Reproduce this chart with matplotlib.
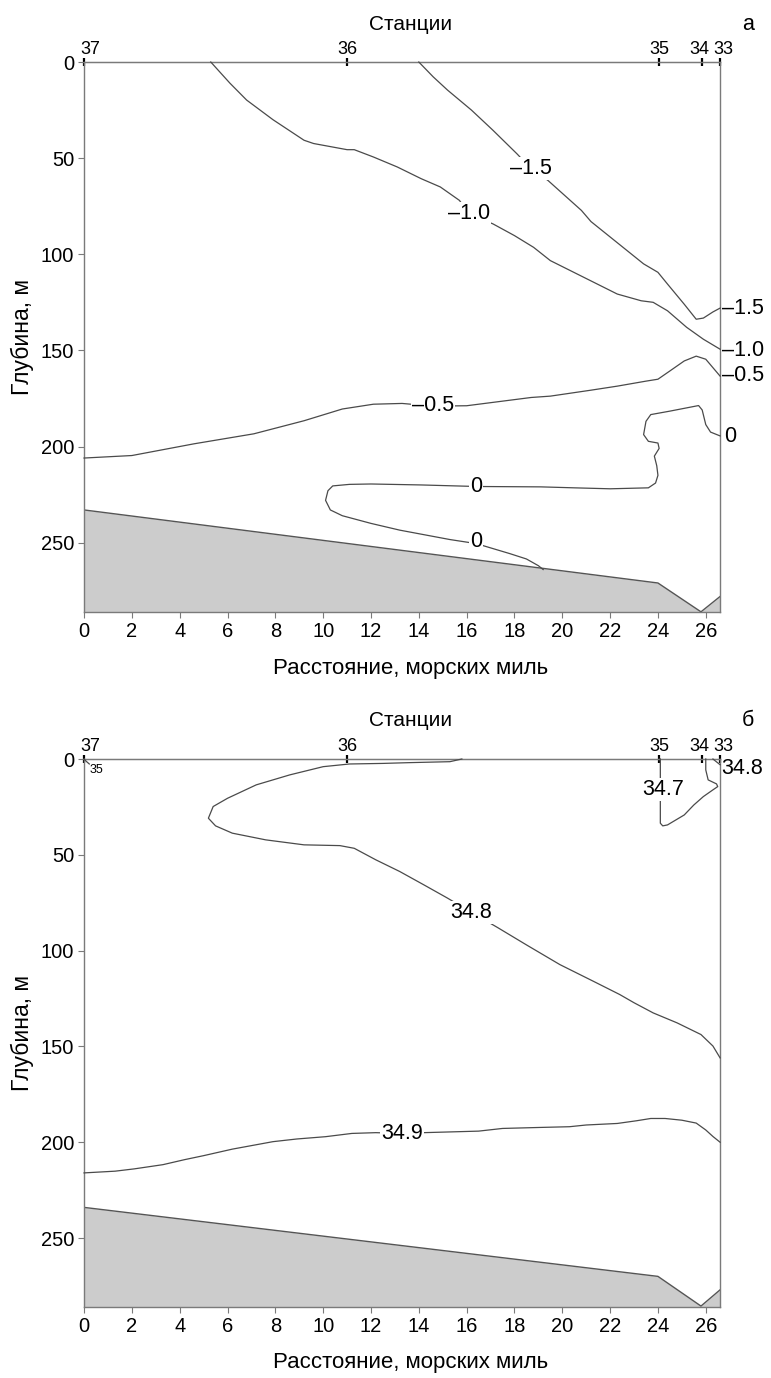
import numpy as np
import matplotlib
matplotlib.use('Agg')
import matplotlib.pyplot as plt

plt.rcParams['font.family'] = ['Liberation Sans', 'DejaVu Sans']

###############################################################################
# Stations along the section (distance, nautical miles)
station_x = [0.0, 11.0, 24.05, 25.85, 26.6]
station_lbl = ['37', '36', '35', '34', '33']
station_lbl_x = [0.25, 11.0, 24.05, 25.72, 26.75]

x_ticks = list(range(0, 27, 2))
depth_ticks = [0, 50, 100, 150, 200, 250]

# Bottom relief (distance, depth)
bot_x_a = [0.0, 24.0, 25.8, 26.6]
bot_d_a = [233, 271, 286, 278]
bot_x_b = [0.0, 24.0, 25.8, 26.6]
bot_d_b = [234, 270, 285.5, 277]

# --- panel a: temperature isolines ---
t15_x = [14.0, 14.6, 15.2, 16.2, 17.1, 18.1, 18.7, 19.4, 20.8, 21.2, 22.7, 23.4,
         24.0, 24.4, 25.1, 25.6, 25.9, 26.3, 26.6]
t15_d = [0, 7.7, 14.6, 25, 35.5, 47.7, 55.5, 61.6, 77.2, 83, 98, 105,
         109.4, 115.5, 126, 133.8, 133.2, 130, 128]

t10_x = [5.3, 6.1, 6.8, 7.9, 9.2, 9.6, 11.0, 11.3, 12.1, 13.1, 14.1, 14.9, 15.7,
         16.1, 17.1, 18.0, 18.8, 19.5, 20.9, 22.3, 23.3, 23.8, 24.4, 25.2, 25.9, 26.6]
t10_d = [0, 11, 19.8, 30, 40.7, 42.4, 45.6, 45.6, 49.4, 54.6, 60.7, 65, 72,
         79, 84.2, 90.3, 96.4, 103.3, 112, 120.7, 124.2, 125, 129.4, 138, 144.2, 149.4]

t05_x = [0, 2.0, 4.6, 7.1, 9.2, 10.8, 12.1, 13.3, 14.6, 16.0, 18.7, 19.5, 21.2,
         22.3, 23.5, 24.0, 24.5, 25.1, 25.6, 26.0, 26.3, 26.6]
t05_d = [206, 204.7, 198.6, 193.4, 186.6, 180.5, 178, 177.6, 179, 178.8, 174.5,
         173.8, 170.7, 168.6, 166, 165, 160.7, 155.5, 153, 154.6, 159, 163.4]

t0_x = [26.6, 26.2, 26.0, 25.85, 25.7, 24.5, 23.7, 23.5, 23.4, 23.6, 24.0, 24.05,
        23.85, 23.95, 24.0, 23.9, 23.6, 22.0, 20.5, 19.1, 16.4, 14.1, 12.0, 11.1,
        10.4, 10.2, 10.1, 10.3, 10.8, 12.0, 13.2, 15.3, 16.4, 17.8, 18.5, 19.0, 19.2]
t0_d = [194.5, 192.5, 188.6, 181, 178.7, 181.6, 183.4, 186.9, 193.8, 197.3, 198.2,
        201, 205, 210, 215, 219, 221.5, 222, 221.5, 221, 220.8, 220, 219.5, 219.7,
        220.5, 223, 228, 233, 236, 240, 243.5, 248.4, 250.5, 255.7, 258.5, 262, 264]

# --- panel b: salinity isolines ---
s348_x = [15.8, 15.3, 13.6, 12.5, 11.1, 10.0, 8.6, 7.2, 6.0, 5.4, 5.2, 5.5, 6.2,
          7.6, 9.2, 10.7, 11.3, 12.2, 13.2, 14.2, 15.2, 16.2, 17.3, 18.5, 19.9,
          21.3, 22.4, 23.0, 23.8, 24.8, 25.8, 26.3, 26.6]
s348_d = [0, 1.4, 1.9, 2.3, 2.6, 4.0, 8.3, 13.5, 20.5, 24.8, 30.9, 34.9, 38.7,
          42.2, 44.8, 45.2, 46.6, 52.6, 58.7, 65.6, 72.6, 80, 88, 97, 107.3,
          116, 122.9, 127.2, 132.5, 137.7, 143.8, 149.8, 156]

s349_x = [0, 1.3, 2.1, 3.3, 4.2, 5.0, 6.2, 7.9, 8.9, 10.1, 11.2, 12.2, 13.3, 14.2,
          16.5, 17.5, 19.0, 20.3, 21.0, 22.3, 23.1, 23.7, 24.3, 25.0, 25.6, 26.0, 26.3, 26.6]
s349_d = [216, 215.1, 213.9, 211.7, 209.1, 207, 203.6, 199.7, 198.3, 197.1, 195.4,
          195, 195.4, 195, 194.2, 192.8, 192.3, 191.9, 191, 190.2, 188.8, 187.6,
          187.6, 188.5, 190, 193.6, 197, 200]

s347_x = [24.1, 24.1, 24.2, 24.4, 25.1, 25.5, 25.9, 26.3, 26.5, 26.45, 26.1, 26.0, 26.0]
s347_d = [0, 33.5, 34.9, 34.4, 29.2, 24, 19.6, 16.1, 14.4, 13, 10.9, 5.7, 0]

s348c_x = [26.3, 26.45, 26.6]
s348c_d = [0, 1.5, 3]
s35_x = [0.0, 0.1, 0.22]
s35_d = [0, 1.3, 2.6]

###############################################################################

LINE = '#4a4a4a'
SPINE = '#7a7a7a'

fig = plt.figure(figsize=(7.71, 13.78), dpi=100)
ax_a = fig.add_axes([0.109, 0.556, 0.825, 0.399])
ax_b = fig.add_axes([0.109, 0.0515, 0.825, 0.3977])


def setup(ax, bx, bd):
    ax.fill_between(bx, bd, 300, color='#cccccc', lw=0, zorder=1)
    ax.plot(bx, bd, color='#555555', lw=1.0, zorder=2)
    ax.set_xlim(0, 26.6)
    ax.set_ylim(286, 0)
    ax.set_xticks(x_ticks)
    ax.set_yticks(depth_ticks)
    ax.tick_params(axis='both', direction='out', length=4, width=0.8,
                   color=SPINE, labelsize=14.5, pad=3)
    for s in ax.spines.values():
        s.set_color(SPINE)
        s.set_linewidth(1.0)
    sec = ax.secondary_xaxis('top')
    sec.set_xticks(station_x, labels=[''] * len(station_x))
    sec.tick_params(direction='inout', length=6, width=1.6, color='black')
    sec.spines['top'].set_color(SPINE)
    for sx, sl in zip(station_lbl_x, station_lbl):
        ax.annotate(sl, xy=(sx, 1), xycoords=('data', 'axes fraction'),
                    xytext=(0, 3), textcoords='offset points',
                    ha='center', va='bottom', fontsize=13)


def iso(ax, x, d):
    ax.plot(x, d, color=LINE, lw=0.9, zorder=3, clip_on=False)


def lab(ax, x, d, s, ha='center', size=15.5):
    ax.text(x, d, s, ha=ha, va='center', fontsize=size, zorder=4, clip_on=False,
            bbox=dict(boxstyle='square,pad=0.05', fc='white', ec='none')
            if ha == 'center' else None)


setup(ax_a, bot_x_a, bot_d_a)
setup(ax_b, bot_x_b, bot_d_b)

# panel a
iso(ax_a, t15_x, t15_d)
iso(ax_a, t10_x, t10_d)
iso(ax_a, t05_x, t05_d)
iso(ax_a, t0_x, t0_d)
lab(ax_a, 18.7, 55.5, '\u20131.5')
lab(ax_a, 16.1, 79, '\u20131.0')
lab(ax_a, 14.6, 178.8, '\u20130.5')
lab(ax_a, 16.4, 220.8, '0')
lab(ax_a, 16.4, 249.5, '0')
lab(ax_a, 26.68, 128, '\u20131.5', ha='left')
lab(ax_a, 26.68, 150, '\u20131.0', ha='left')
lab(ax_a, 26.68, 163, '\u20130.5', ha='left')
lab(ax_a, 26.75, 195, '0', ha='left')

# panel b
iso(ax_b, s348_x, s348_d)
iso(ax_b, s349_x, s349_d)
iso(ax_b, s347_x, s347_d)
iso(ax_b, s348c_x, s348c_d)
iso(ax_b, s35_x, s35_d)
lab(ax_b, 16.2, 80, '34.8')
lab(ax_b, 13.3, 195.2, '34.9')
lab(ax_b, 24.2, 16, '34.7')
lab(ax_b, 26.65, 5, '34.8', ha='left')
ax_b.text(0.25, 6, '35', ha='left', va='center', fontsize=9)

for ax, yt, yx, yy, lt in [(ax_a, 0.9819, 0.5152, 0.7555, '\u0430'),
                           (ax_b, 0.4775, 0.0109, 0.2504, '\u0431')]:
    fig.text(0.532, yt, 'Станции', ha='center', va='center', fontsize=15)
    fig.text(0.970, yt, lt, ha='center', va='center', fontsize=15.5)
    fig.text(0.532, yx, 'Расстояние, морских миль', ha='center', va='center',
             fontsize=16)
    fig.text(0.0285, yy, 'Глубина, м', ha='center', va='center', fontsize=16.5,
             rotation=90)

fig.savefig('out.png', dpi=100)
